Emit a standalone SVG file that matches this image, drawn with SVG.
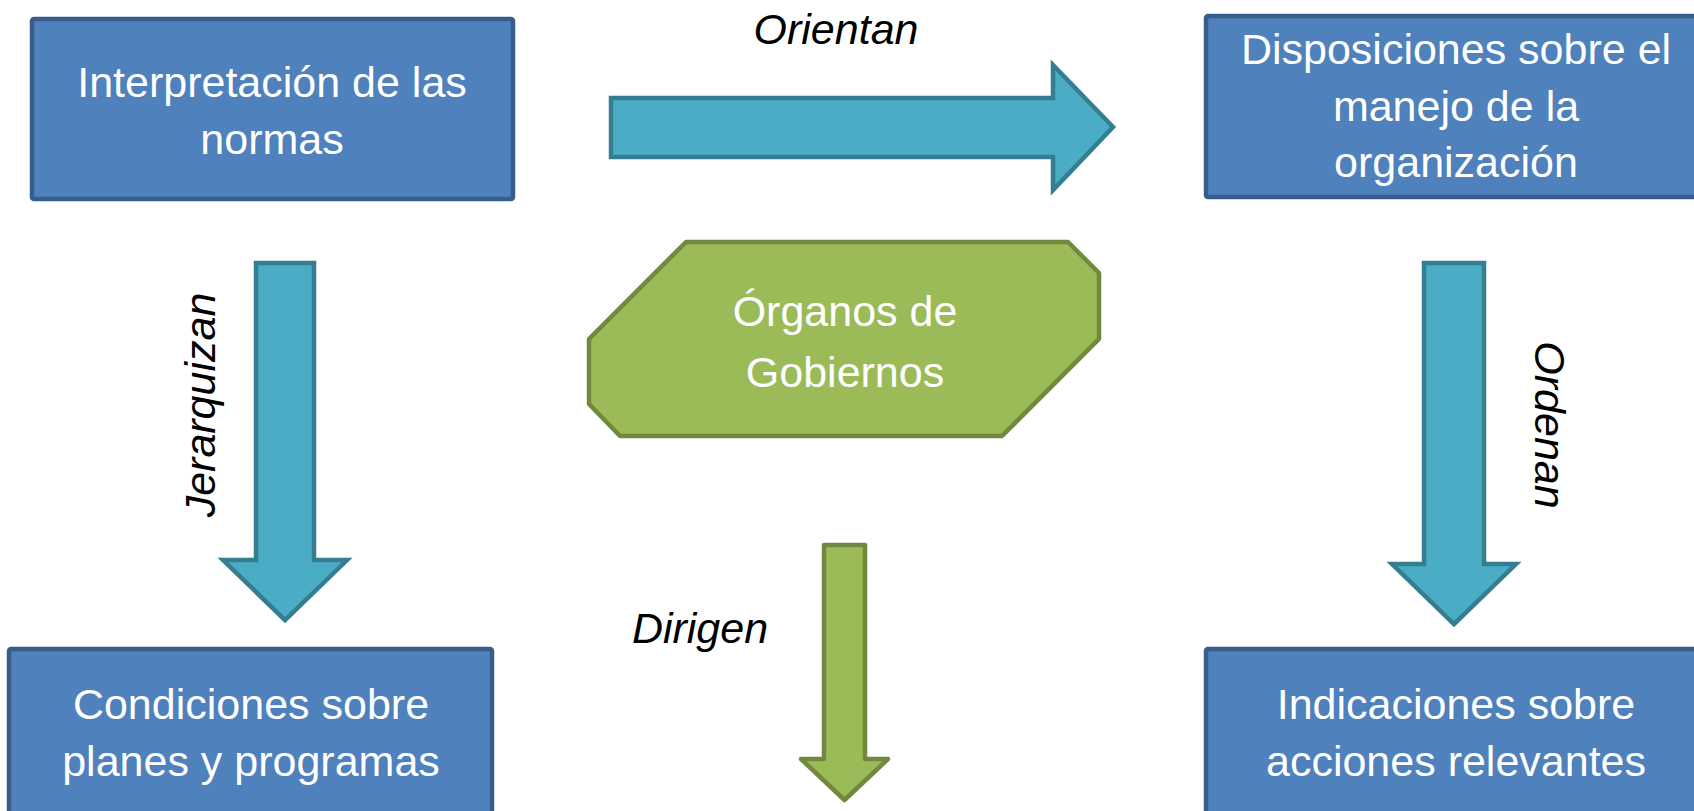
<svg xmlns="http://www.w3.org/2000/svg" width="1694" height="811" viewBox="0 0 1694 811">
<style>
.box{fill:#4f81bd;stroke:#385d8a;stroke-width:4.5}
.blue{fill:#4bacc6;stroke:#357d91;stroke-width:4.5;stroke-linejoin:miter}
.green{fill:#9bbb59;stroke:#71893f;stroke-width:4.5;stroke-linejoin:round}
.t{font-family:"Liberation Sans",Arial,sans-serif;font-size:43px;fill:#ffffff;text-anchor:middle}
.lbl{font-family:"Liberation Sans",Arial,sans-serif;font-size:43px;font-style:italic;fill:#000000;text-anchor:middle}
</style>
<rect width="1694" height="811" fill="#ffffff"/>
<g id="connectors">
  <g id="orientan">
    <polygon class="blue" points="611,98 1053,98 1053,65 1113,127 1053,190 1053,157 611,157"/>
    <text class="lbl" x="836" y="44">Orientan</text>
  </g>
  <g id="jerarquizan">
    <polygon class="blue" points="256,263 314,263 314,560 347,560 285,620 223,560 256,560"/>
    <text class="lbl" transform="translate(215,405) rotate(-90)" x="0" y="0">Jerarquizan</text>
  </g>
  <g id="ordenan">
    <polygon class="blue" points="1424,263 1484,263 1484,564 1516,564 1454,624 1392,564 1424,564"/>
    <text class="lbl" transform="translate(1535,425) rotate(90)" x="0" y="0">Ordenan</text>
  </g>
  <g id="dirigen">
    <polygon class="green" points="824,545 865,545 865,759 888,759 844.5,800 801,759 824,759"/>
    <text class="lbl" x="700" y="643">Dirigen</text>
  </g>
</g>
<g id="node-interpretacion">
  <rect class="box" x="32" y="19" width="481" height="180" rx="2"/>
  <text class="t" x="272" y="97">Interpretación de las</text>
  <text class="t" x="272" y="154">normas</text>
</g>
<g id="node-disposiciones">
  <rect class="box" x="1206" y="16" width="500" height="181" rx="2"/>
  <text class="t" x="1456" y="64">Disposiciones sobre el</text>
  <text class="t" x="1456" y="121">manejo de la</text>
  <text class="t" x="1456" y="177">organización</text>
</g>
<g id="node-organos">
  <polygon class="green" points="686,242 1068,242 1099,273 1099,339 1002,436 620,436 589,404 589,339"/>
  <text class="t" x="845" y="326">Órganos de</text>
  <text class="t" x="845" y="387">Gobiernos</text>
</g>
<g id="node-condiciones">
  <rect class="box" x="9" y="649" width="483" height="200" rx="2"/>
  <text class="t" x="251" y="719">Condiciones sobre</text>
  <text class="t" x="251" y="776">planes y programas</text>
</g>
<g id="node-indicaciones">
  <rect class="box" x="1206" y="649" width="500" height="200" rx="2"/>
  <text class="t" x="1456" y="719">Indicaciones sobre</text>
  <text class="t" x="1456" y="776">acciones relevantes</text>
</g>
</svg>
